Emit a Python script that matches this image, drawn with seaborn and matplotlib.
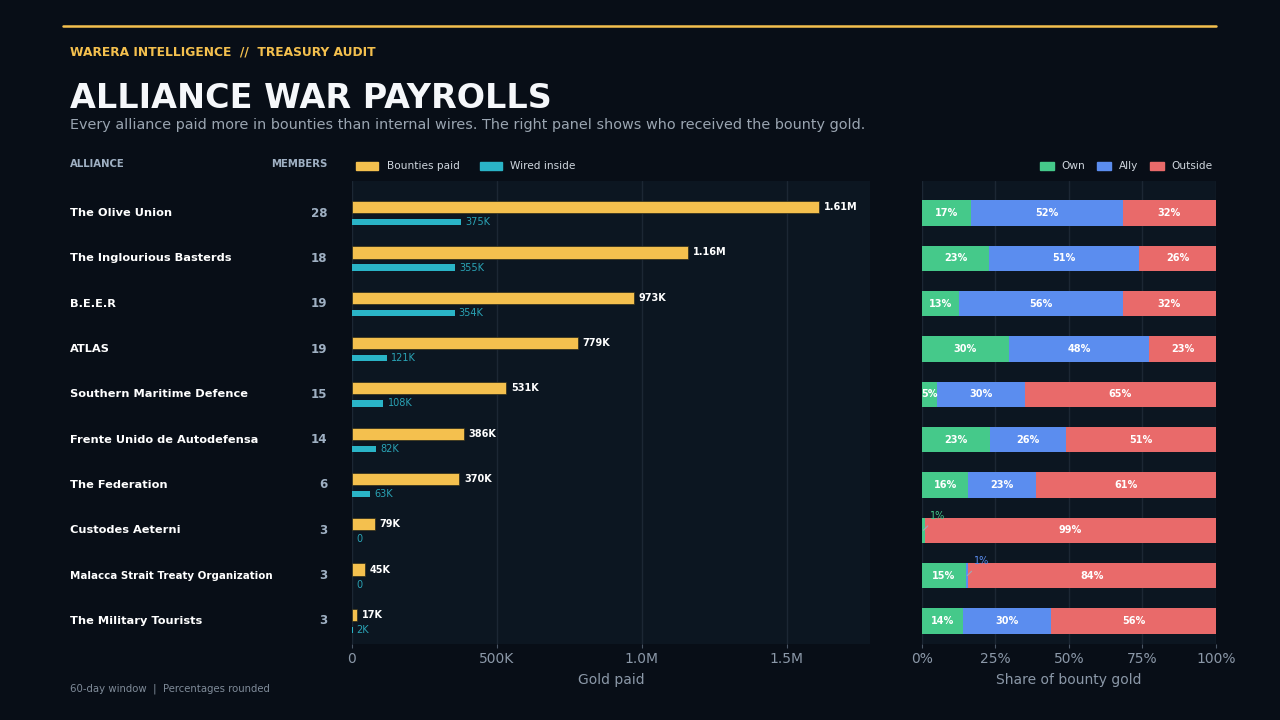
import numpy as np
import matplotlib
matplotlib.use('Agg')
import matplotlib.pyplot as plt
import seaborn as sns
from matplotlib.patches import Patch
from matplotlib.lines import Line2D
from matplotlib.transforms import blended_transform_factory

# data
alliances = ['The Olive Union', 'The Inglourious Basterds', 'B.E.E.R', 'ATLAS',
             'Southern Maritime Defence', 'Frente Unido de Autodefensa', 'The Federation',
             'Custodes Aeterni', 'Malacca Strait Treaty Organization', 'The Military Tourists']
members = [28, 18, 19, 19, 15, 14, 6, 3, 3, 3]
bounties = [1610000, 1160000, 973000, 779000, 531000, 386000, 370000, 79000, 45000, 17000]
wired = [375000, 355000, 354000, 121000, 108000, 82000, 63000, 0, 0, 2000]
share_own = [16.6, 22.9, 12.6, 29.6, 5.0, 23.0, 15.8, 1.0, 15.0, 13.8]
share_ally = [51.6, 50.9, 55.6, 47.6, 30.0, 25.9, 23.0, 0.0, 0.8, 30.1]
share_out = [31.8, 26.2, 31.8, 22.8, 65.0, 51.1, 61.2, 99.0, 84.2, 56.1]
gold_ticks = [0, 500000, 1000000, 1500000]
gold_ticklabels = ['0', '500K', '1.0M', '1.5M']
share_ticks = [0, 25, 50, 75, 100]

BG = '#080e17'
PANEL = '#0c1621'
GRID = '#1c2734'
GOLD = '#f4c04e'
TEAL = '#2ab4c7'
GREEN = '#45c98a'
BLUE = '#5b8def'
RED = '#e96a6a'
MUTED = '#8b98a8'
HEAD = '#9fb0c3'

sns.set_theme(style='dark')
plt.rcParams['font.family'] = ['DejaVu Sans']
plt.rcParams['figure.facecolor'] = BG
plt.rcParams['axes.facecolor'] = PANEL


def fmt_gold(v):
    if v >= 1e6:
        return f'{v / 1e6:.2f}M'
    if v >= 1e3:
        return f'{v / 1e3:.0f}K'
    return f'{v:.0f}'


pos = np.arange(len(alliances))

fig = plt.figure(figsize=(12.8, 7.2), dpi=100)
ax1 = fig.add_axes([0.275, 0.1056, 0.4047, 0.643])
ax2 = fig.add_axes([0.7203, 0.1056, 0.2297, 0.643])

# ---- middle panel: gold paid
sns.barplot(x=bounties, y=pos - 0.133, orient='h', native_scale=True, width=0.27,
            color=GOLD, saturation=1, errorbar=None, edgecolor='#2a2a1a', linewidth=0.5, ax=ax1)
sns.barplot(x=wired, y=pos + 0.2, orient='h', native_scale=True, width=0.14,
            color=TEAL, saturation=1, errorbar=None, linewidth=0, ax=ax1)
for i in range(len(alliances)):
    ax1.annotate(fmt_gold(bounties[i]), (bounties[i], pos[i] - 0.133), xytext=(3.5, 0),
                 textcoords='offset points', va='center', ha='left', fontsize=7,
                 fontweight='bold', color='white')
    ax1.annotate(fmt_gold(wired[i]), (wired[i], pos[i] + 0.2), xytext=(3, 0),
                 textcoords='offset points', va='center', ha='left', fontsize=7,
                 color='#2aa3b5')

ax1.set_xlim(0, max(bounties) * 1.11)
ax1.set_ylim(9.51, -0.71)
ax1.set_xticks(gold_ticks)
ax1.set_xticklabels(gold_ticklabels)
ax1.set_xlabel('Gold paid', color=MUTED, fontsize=10, labelpad=5)

# ---- right panel: who received the bounty gold (stacked by overlay)
cum_ally = [o + a for o, a in zip(share_own, share_ally)]
cum_all = [o + a + r for o, a, r in zip(share_own, share_ally, share_out)]
for vals, col in [(cum_all, RED), (cum_ally, BLUE), (share_own, GREEN)]:
    sns.barplot(x=vals, y=pos, orient='h', native_scale=True, width=0.56, color=col,
                saturation=1, errorbar=None, linewidth=0, ax=ax2)

seg_colors = [GREEN, BLUE, RED]
for i in range(len(alliances)):
    start = 0
    for v, col in zip([share_own[i], share_ally[i], share_out[i]], seg_colors):
        mid = start + v / 2
        if v >= 4:
            ax2.text(mid, pos[i], f'{v:.0f}%', ha='center', va='center', fontsize=7,
                     fontweight='bold', color='white')
        elif v > 0:
            ax2.annotate(f'{v:.0f}%', (mid, pos[i]), xytext=(10.5, 10.5),
                         textcoords='offset points', ha='center', va='center', fontsize=7,
                         color=col, arrowprops=dict(arrowstyle='-', color='#a0aab6',
                                                    lw=0.8, shrinkA=2, shrinkB=0))
        start += v

ax2.set_xlim(0, 100)
ax2.set_ylim(9.51, -0.71)
ax2.set_xticks(share_ticks)
ax2.set_xticklabels([f'{t}%' for t in share_ticks])
ax2.set_xlabel('Share of bounty gold', color=MUTED, fontsize=10, labelpad=5)

for ax in (ax1, ax2):
    ax.set_ylabel('')
    ax.set_yticks([])
    for s in ax.spines.values():
        s.set_visible(False)
    ax.grid(axis='x', color=GRID, lw=1)
    ax.grid(axis='y', visible=False)
    ax.set_axisbelow(True)
    ax.tick_params(axis='x', colors='#4a5665', labelcolor=MUTED, labelsize=10,
                   length=3, width=0.8, bottom=True, pad=3)

# legends
leg1 = ax1.legend(handles=[Patch(color=GOLD, label='Bounties paid'),
                           Patch(color=TEAL, label='Wired inside')],
                  loc='lower left', bbox_to_anchor=(-0.006, 1.005), ncol=2, frameon=False,
                  fontsize=7.6, handlelength=2.1, handleheight=0.8, columnspacing=1.9,
                  handletextpad=0.8, borderaxespad=0.3)
for t in leg1.get_texts():
    t.set_color('#cfd6de')
leg2 = ax2.legend(handles=[Patch(color=GREEN, label='Own'), Patch(color=BLUE, label='Ally'),
                           Patch(color=RED, label='Outside')],
                  loc='lower right', bbox_to_anchor=(1.014, 1.005), ncol=3, frameon=False,
                  fontsize=7.6, handlelength=1.3, handleheight=0.8, columnspacing=1.2,
                  handletextpad=0.7, borderaxespad=0.3)
for t in leg2.get_texts():
    t.set_color('#cfd6de')

# ---- left table
tr = blended_transform_factory(fig.transFigure, ax1.transData)
for i, name in enumerate(alliances):
    fs = 7.4 if len(name) > 30 else 8.2
    fig.text(70 / 1280, pos[i], name, transform=tr, ha='left', va='center',
             fontsize=fs, fontweight='bold', color='white')
    fig.text(327 / 1280, pos[i], str(members[i]), transform=tr, ha='right', va='center',
             fontsize=8.6, fontweight='bold', color=HEAD)

fig.text(70 / 1280, 1 - 164 / 720, 'ALLIANCE', ha='left', va='center', fontsize=7.3,
         fontweight='bold', color=HEAD)
fig.text(327 / 1280, 1 - 164 / 720, 'MEMBERS', ha='right', va='center', fontsize=7.3,
         fontweight='bold', color=HEAD)

# ---- header / footer
fig.add_artist(Line2D([63 / 1280, 1216 / 1280], [1 - 26 / 720, 1 - 26 / 720],
                      color=GOLD, lw=1.8, transform=fig.transFigure))
fig.text(70 / 1280, 1 - 52 / 720, 'WARERA INTELLIGENCE  //  TREASURY AUDIT', ha='left',
         va='center', fontsize=8.8, fontweight='bold', color=GOLD)
fig.text(70 / 1280, 1 - 98 / 720, 'ALLIANCE WAR PAYROLLS', ha='left', va='center',
         fontsize=24, fontweight='bold', color='#f5f7fa')
fig.text(70 / 1280, 1 - 125 / 720,
         'Every alliance paid more in bounties than internal wires. '
         'The right panel shows who received the bounty gold.',
         ha='left', va='center', fontsize=10.4, color='#9aa5b1')
fig.text(70 / 1280, 1 - 689 / 720, '60-day window  |  Percentages rounded', ha='left',
         va='center', fontsize=7.3, color='#7f8b99')

fig.savefig('out.png', dpi=100, facecolor=BG)
